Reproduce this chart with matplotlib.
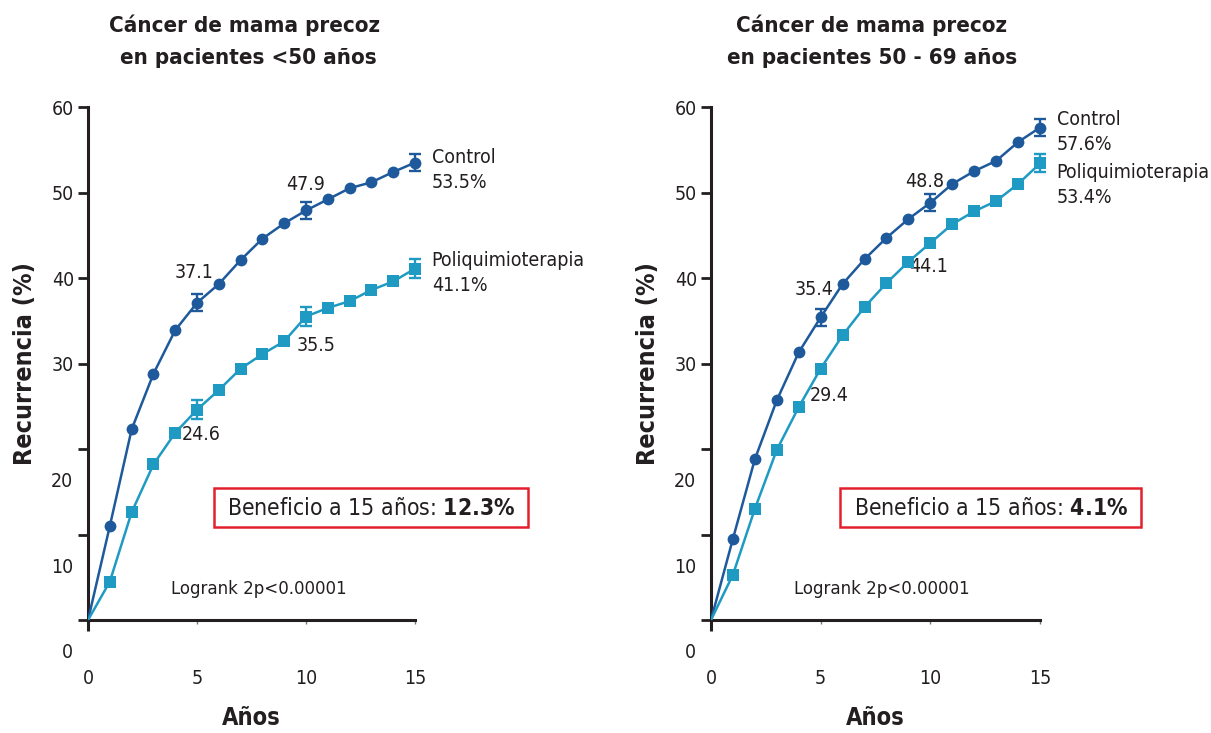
import matplotlib
matplotlib.use("Agg")
import matplotlib.pyplot as plt
from matplotlib.patches import Rectangle

plt.rcParams['font.family'] = 'DejaVu Sans'
plt.rcParams['font.stretch'] = 'condensed'

# recurrence (%) per year of follow-up
years = list(range(16))

ctrl_young = [0, 11.0, 22.3, 28.8, 33.9, 37.1, 39.3, 42.1, 44.6, 46.4, 47.9,
              49.2, 50.5, 51.2, 52.4, 53.5]
poli_young = [0, 4.5, 12.6, 18.2, 21.9, 24.6, 26.9, 29.4, 31.1, 32.6, 35.5,
              36.5, 37.3, 38.6, 39.6, 41.1]

ctrl_old = [0, 9.5, 18.8, 25.7, 31.3, 35.4, 39.3, 42.2, 44.7, 46.9, 48.8,
            51.0, 52.5, 53.7, 55.9, 57.6]
poli_old = [0, 5.3, 13.0, 19.9, 24.9, 29.4, 33.3, 36.6, 39.4, 41.9, 44.1,
            46.3, 47.8, 49.0, 51.0, 53.4]

# error bars only drawn at some years
err_years_ctrl_young = [5, 10, 15]
err_ctrl_young = [1.0, 1.0, 1.0]
err_years_poli_young = [5, 10, 15]
err_poli_young = [1.1, 1.1, 1.1]
err_years_ctrl_old = [5, 10, 15]
err_ctrl_old = [1.0, 1.0, 1.0]
err_years_poli_old = [15]
err_poli_old = [1.05]

benefit_young = '12.3%'
benefit_old = '4.1%'

yticks = [0, 10, 20, 30, 40, 50, 60]
xticks = [0, 5, 10, 15]

DARK = '#231f20'
C_CTRL = '#1e5a9b'
C_POLI = '#1f9bc3'
RED = '#e3202d'

fig = plt.figure(figsize=(12.11, 7.33), dpi=100)
ax1 = fig.add_axes([0.0727, 0.1541, 0.2700, 0.6999])
ax2 = fig.add_axes([0.5871, 0.1541, 0.2717, 0.6999])


def err_vals(xs, series):
    return [series[x] for x in xs]


def setup_axes(ax):
    ax.set_xlim(0, 15)
    ax.set_ylim(0, 60)
    for s in ['top', 'right']:
        ax.spines[s].set_visible(False)
    for s in ['left', 'bottom']:
        ax.spines[s].set_linewidth(2.2)
        ax.spines[s].set_color(DARK)
    ax.set_yticks(yticks)
    ax.set_yticklabels([str(v) if v >= 30 else '' for v in yticks])
    ax.tick_params(axis='y', length=7, width=2, color=DARK, labelsize=14,
                   labelcolor=DARK, pad=3)
    ax.set_xticks(xticks)
    ax.set_xticklabels([str(v) for v in xticks])
    ax.tick_params(axis='x', length=3, width=1, color='#777777', labelsize=14,
                   labelcolor=DARK, pad=32)
    t0 = ax.xaxis.get_major_ticks()[0]
    t0.tick1line.set_markersize(8)
    t0.tick1line.set_markeredgewidth(2.2)
    t0.tick1line.set_markeredgecolor(DARK)
    # lower labels sit below their tick marks
    for v in [0, 10, 20]:
        ax.annotate(str(v), xy=(0, v), xycoords=ax.get_yaxis_transform(),
                    xytext=(-10.5, -23.5), textcoords='offset points',
                    ha='right', va='center', fontsize=14, color=DARK)
    ax.set_xlabel('Años', fontsize=17, fontweight='bold', color=DARK,
                  labelpad=13)
    ax.set_ylabel('Recurrencia (%)', fontsize=18, fontweight='bold',
                  color=DARK, labelpad=11)


def draw_series(ax, ys, exs, evals, color, marker, ms):
    ax.plot(years, ys, color=color, lw=1.8, zorder=3)
    ax.plot(years[1:], ys[1:], ls='none', marker=marker, ms=ms, color=color,
            mew=0, zorder=4, clip_on=False)
    ax.errorbar(exs, err_vals(exs, ys), yerr=evals, fmt='none', ecolor=color,
                elinewidth=1.7, capsize=4, capthick=1.7, zorder=4,
                clip_on=False)


setup_axes(ax1)
setup_axes(ax2)

draw_series(ax1, ctrl_young, err_years_ctrl_young, err_ctrl_young, C_CTRL, 'o', 8.5)
draw_series(ax1, poli_young, err_years_poli_young, err_poli_young, C_POLI, 's', 8)
draw_series(ax2, ctrl_old, err_years_ctrl_old, err_ctrl_old, C_CTRL, 'o', 8.5)
draw_series(ax2, poli_old, err_years_poli_old, err_poli_old, C_POLI, 's', 8)

txt = dict(fontsize=14, color=DARK)
end = dict(textcoords='offset points', ha='left', va='center',
           linespacing=1.4, annotation_clip=False, **txt)

# left panel annotations
ax1.annotate(f'{ctrl_young[5]}', xy=(5, ctrl_young[5]), xytext=(-2, 22),
             textcoords='offset points', ha='center', va='center', **txt)
ax1.annotate(f'{ctrl_young[10]}', xy=(10, ctrl_young[10]), xytext=(0, 19),
             textcoords='offset points', ha='center', va='center', **txt)
ax1.annotate(f'{poli_young[5]}', xy=(5, poli_young[5]), xytext=(-11, -18),
             textcoords='offset points', ha='left', va='center', **txt)
ax1.annotate(f'{poli_young[10]}', xy=(10, poli_young[10]), xytext=(-7, -21),
             textcoords='offset points', ha='left', va='center', **txt)
ax1.annotate(f'Control\n{ctrl_young[-1]}%', xy=(15, ctrl_young[-1]),
             xytext=(12, -5), **end)
ax1.annotate(f'Poliquimioterapia\n{poli_young[-1]}%', xy=(15, poli_young[-1]),
             xytext=(12, -3), **end)

# right panel annotations
ax2.annotate(f'{ctrl_old[5]}', xy=(5, ctrl_old[5]), xytext=(-5, 20),
             textcoords='offset points', ha='center', va='center', **txt)
ax2.annotate(f'{ctrl_old[10]}', xy=(10, ctrl_old[10]), xytext=(-4, 15),
             textcoords='offset points', ha='center', va='center', **txt)
ax2.annotate(f'{poli_old[5]}', xy=(5, poli_old[5]), xytext=(-8, -19),
             textcoords='offset points', ha='left', va='center', **txt)
ax2.annotate(f'{poli_old[10]}', xy=(10, poli_old[10]), xytext=(-15, -17),
             textcoords='offset points', ha='left', va='center', **txt)
ax2.annotate(f'Control\n{ctrl_old[-1]}%', xy=(15, ctrl_old[-1]),
             xytext=(12, -3.5), **end)
ax2.annotate(f'Poliquimioterapia\n{poli_old[-1]}%', xy=(15, poli_old[-1]),
             xytext=(12, -15.5), **end)

for ax in (ax1, ax2):
    ax.text(3.8, 3.6, 'Logrank 2p<0.00001', ha='left', va='center',
            fontsize=13.3, color=DARK)

for value, ax, (bx0, bx1) in [(benefit_young, ax1, (5.8, 20.2)),
                              (benefit_old, ax2, (5.9, 19.6))]:
    ax.add_patch(Rectangle((bx0, 10.9), bx1 - bx0, 4.55, fill=False, ec=RED,
                           lw=1.8, clip_on=False, zorder=5))
    label = 'Beneficio a 15 años: $\\bf{' + value.replace('%', '\\%') + '}$'
    ax.text((bx0 + bx1) / 2, 13.05, label, ha='center', va='center',
            fontsize=16.5, color=DARK, clip_on=False)

title_kw = dict(ha='center', va='center', fontsize=16, fontweight='bold',
                color=DARK)
fig.text(0.2023, 0.966, 'Cáncer de mama precoz', **title_kw)
fig.text(0.2047, 0.921, 'en pacientes <50 años', **title_kw)
fig.text(0.7193, 0.966, 'Cáncer de mama precoz', **title_kw)
fig.text(0.7200, 0.921, 'en pacientes 50 - 69 años', **title_kw)

fig.savefig('out.png', dpi=100)
